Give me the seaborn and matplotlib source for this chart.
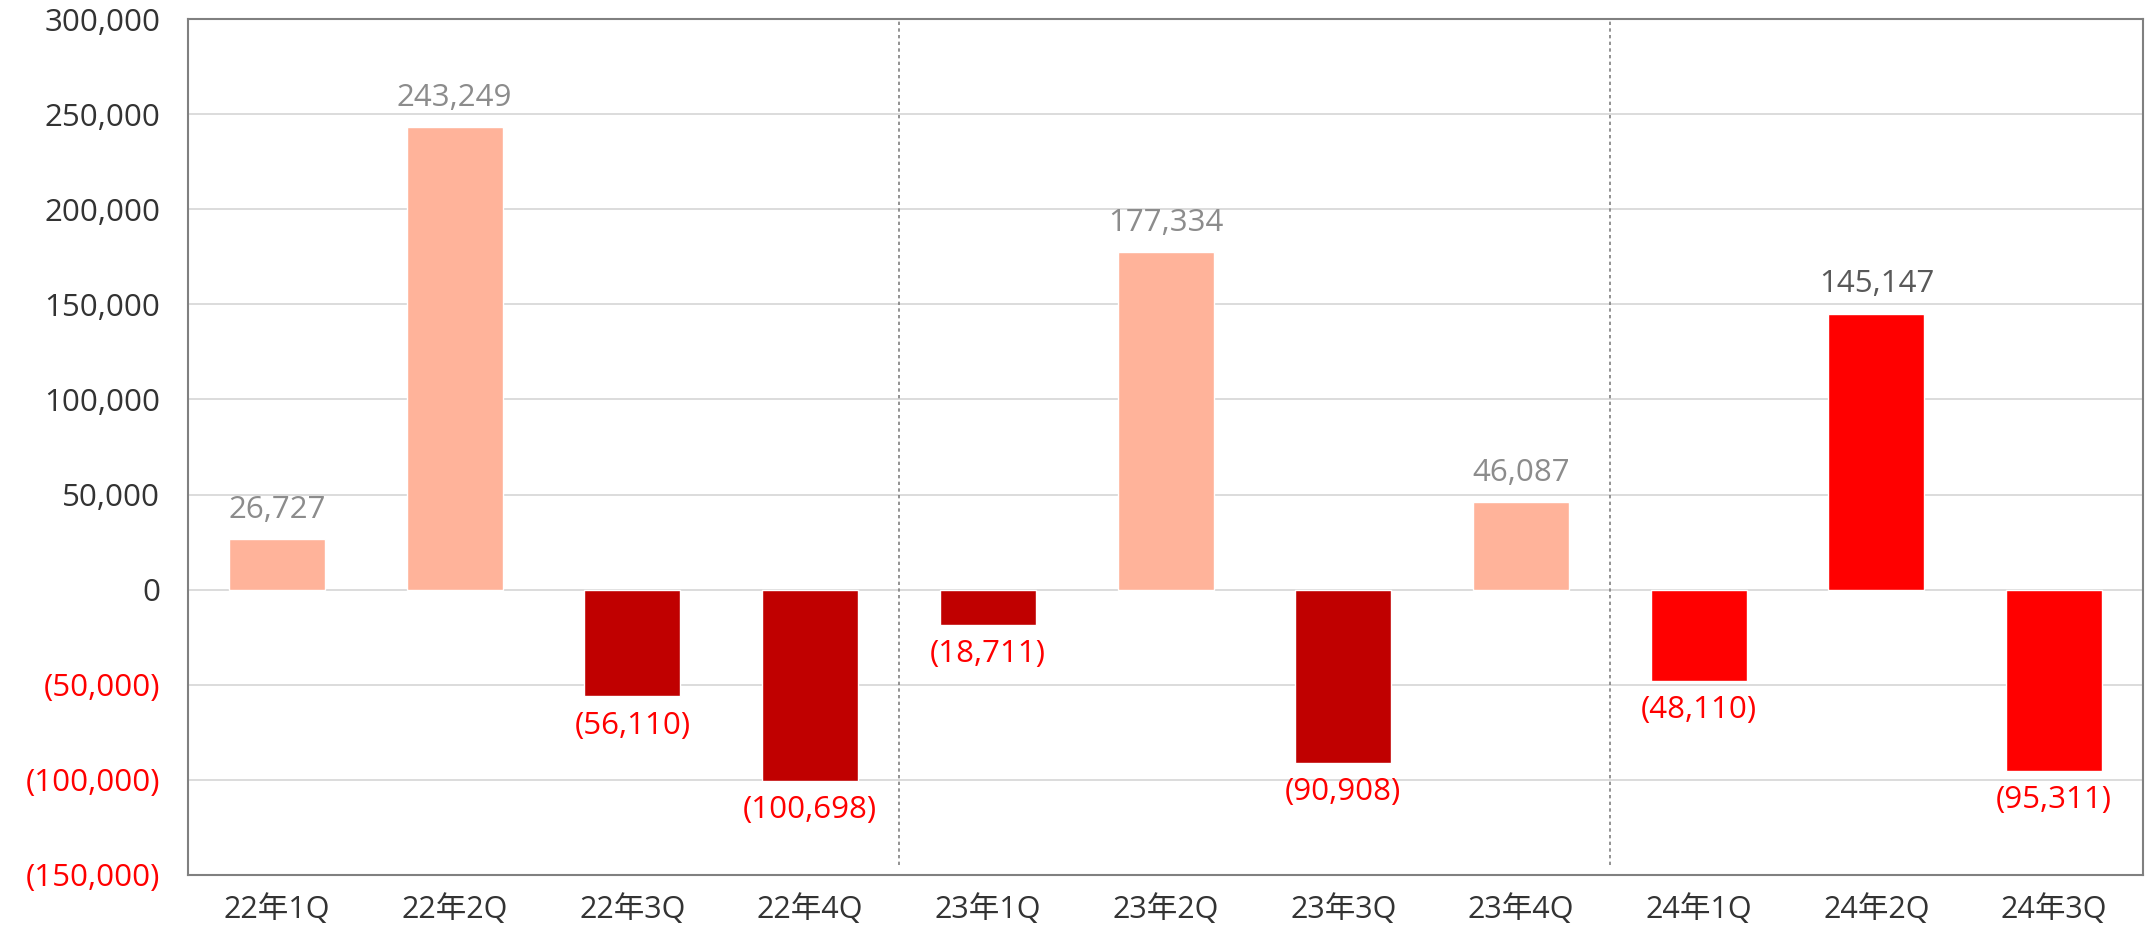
import matplotlib
matplotlib.use("Agg")
import matplotlib.pyplot as plt
import seaborn as sns
import pandas as pd

# Quarterly values
quarters = ["22年1Q", "22年2Q", "22年3Q", "22年4Q",
            "23年1Q", "23年2Q", "23年3Q", "23年4Q",
            "24年1Q", "24年2Q", "24年3Q"]
values = [26727, 243249, -56110, -100698,
          -18711, 177334, -90908, 46087,
          -48110, 145147, -95311]
yticks = [-150000, -100000, -50000, 0, 50000, 100000, 150000, 200000, 250000, 300000]

sns.set_theme(style="white")
plt.rcParams["font.family"] = ["Open Sans", "Noto Sans CJK JP", "DejaVu Sans"]

df = pd.DataFrame({"quarter": quarters, "value": values})


def bar_color(q, v):
    if q.startswith("24"):
        return "#FF0000"
    return "#FFB39A" if v >= 0 else "#C00000"


colors = [bar_color(q, v) for q, v in zip(quarters, values)]

fig = plt.figure(figsize=(21.51, 9.27), dpi=100)
ax = fig.add_axes([0.0874, 0.0561, 0.9089, 0.9234])

sns.barplot(data=df, x="quarter", y="value", hue="quarter", palette=colors,
            legend=False, width=0.54, saturation=1, ax=ax)

ax.set_xlim(-0.5, len(quarters) - 0.5)
ax.set_ylim(-150000, 300000)
ax.set_yticks(yticks)
ax.set_yticklabels([f"{v:,}" if v >= 0 else f"({-v:,})" for v in yticks])

ax.grid(axis="y", color="#D9D9D9", linewidth=1.3)
ax.set_axisbelow(True)
ax.set_xlabel("")
ax.set_ylabel("")
ax.tick_params(axis="y", length=0, labelsize=22.5, colors="#333333", pad=20)
ax.tick_params(axis="x", length=0, labelsize=22, colors="#333333", pad=14)
for lbl, v in zip(ax.get_yticklabels(), yticks):
    lbl.set_color("#333333" if v >= 0 else "#FF0000")

for s in ax.spines.values():
    s.set_color("#808080")
    s.set_linewidth(1.5)

# year separators
for xs in [3.5, 7.5]:
    ax.axvline(xs, ymin=0.012, ymax=1, color="#808080", linestyle=(0, (2, 2)), linewidth=1.2)

# value labels
for i, (q, v) in enumerate(zip(quarters, values)):
    if v >= 0:
        col = "#595959" if q.startswith("24") else "#8C8C8C"
        ax.annotate(f"{v:,}", (i, v), xytext=(0, 21), textcoords="offset points",
                    ha="center", va="center", fontsize=22.5, color=col)
    else:
        ax.annotate(f"({-v:,})", (i, v), xytext=(0, -21), textcoords="offset points",
                    ha="center", va="center", fontsize=22.5, color="#FF0000")

fig.savefig("out.png", dpi=100)
